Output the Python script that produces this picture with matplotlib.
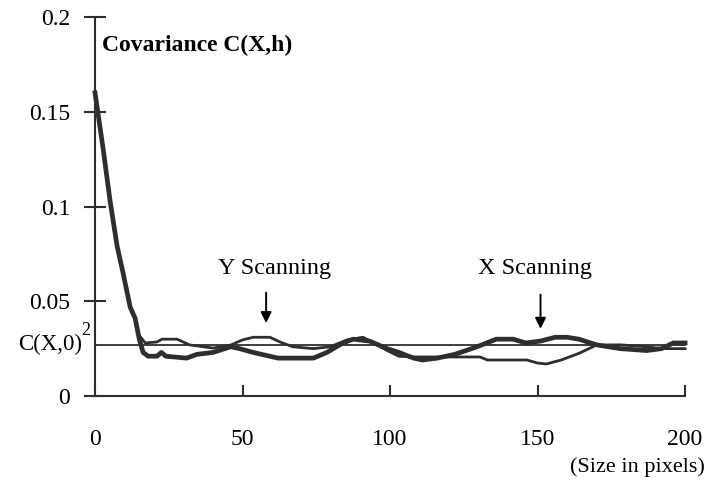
import matplotlib.pyplot as plt

plt.rcParams['font.family'] = ['Liberation Serif', 'DejaVu Serif']

# --- data ---
x_thick = [0, 2.7, 5.1, 7.5, 9.5, 11.9, 13.6, 15, 16.3, 18, 21, 22.5, 24, 31, 34.6, 40, 46,
           49, 53.6, 62, 74, 78.6, 84, 87.5, 93, 99, 103, 108, 111, 116, 122, 129.5, 136,
           141.7, 146, 151, 156, 160, 164, 170, 178, 187, 192, 196, 200]
y_thick = [0.160, 0.131, 0.103, 0.079, 0.065, 0.047, 0.041, 0.030, 0.023, 0.021, 0.021, 0.023,
           0.021, 0.020, 0.022, 0.023, 0.026, 0.025, 0.023, 0.020, 0.020, 0.023, 0.028, 0.030,
           0.029, 0.025, 0.023, 0.020, 0.019, 0.020, 0.022, 0.026, 0.030, 0.030, 0.028, 0.029,
           0.031, 0.031, 0.030, 0.027, 0.025, 0.024, 0.025, 0.028, 0.028]

x_thin = [0, 2.7, 5.1, 7.5, 9.5, 11.9, 13.6, 15, 17, 21, 22.7, 27.8, 32, 40, 46, 50, 53.6,
          59.3, 62.7, 67, 74, 79.7, 85.4, 90.8, 94, 99, 103, 108, 130.5, 133, 141.7, 146.4,
          150, 153, 158, 164, 170, 178, 187, 192, 200]
y_thin = [0.160, 0.131, 0.103, 0.079, 0.065, 0.047, 0.041, 0.032, 0.028, 0.0285, 0.030, 0.030,
          0.027, 0.0253, 0.0269, 0.0296, 0.031, 0.031, 0.0285, 0.026, 0.025, 0.026, 0.0296,
          0.031, 0.0285, 0.024, 0.021, 0.0206, 0.0206, 0.019, 0.019, 0.019, 0.0174, 0.0169,
          0.019, 0.0225, 0.0269, 0.027, 0.026, 0.025, 0.025]

c0 = 0.027  # C(X,0)^2 level
xticks = [0, 50, 100, 150, 200]
yticks = [0, 0.05, 0.1, 0.15, 0.2]
ytick_labels = ['0', '0.05', '0.1', '0.15', '0.2']

ink = '#2e2e2e'

fig = plt.figure(figsize=(7.07, 4.82), dpi=100)
ax = fig.add_axes([0.1344, 0.1784, 0.8346, 0.7863])

ax.plot([0, 200], [c0, c0], color=ink, lw=1.3, clip_on=False)
ax.plot(x_thin, y_thin, color=ink, lw=2.0, clip_on=False, solid_joinstyle='round')
ax.plot(x_thick, y_thick, color=ink, lw=3.4, clip_on=False, solid_joinstyle='round')

ax.set_xlim(0, 200)
ax.set_ylim(0, 0.2)
for s in ['top', 'right']:
    ax.spines[s].set_visible(False)
for s in ['left', 'bottom']:
    ax.spines[s].set_color(ink)
    ax.spines[s].set_linewidth(1.5)

ax.set_xticks(xticks)
ax.set_xticklabels([str(v) for v in xticks])
ax.set_yticks(yticks)
ax.set_yticklabels(ytick_labels)
ax.tick_params(axis='y', direction='inout', length=16, width=1.5, color=ink, pad=10, labelsize=17)
ax.tick_params(axis='x', direction='in', length=8, width=1.5, color=ink, pad=24, labelsize=17)

ax.text(0.012, 0.926, 'Covariance C(X,h)', transform=ax.transAxes, fontsize=17,
        fontweight='bold', va='center', ha='left')

# C(X,0)^2 label
ax.text(-0.022, c0, 'C(X,0)', transform=ax.get_yaxis_transform(), fontsize=16.5,
        ha='right', va='center', clip_on=False)
ax.text(-0.024, c0 + 0.0078, '2', transform=ax.get_yaxis_transform(), fontsize=13,
        ha='left', va='center', clip_on=False)

ax.text(61, 0.0675, 'Y Scanning', fontsize=17.5, ha='center', va='center')
ax.text(149, 0.0675, 'X Scanning', fontsize=17.5, ha='center', va='center')
ax.annotate('', xy=(58, 0.037), xytext=(58, 0.056),
            arrowprops=dict(arrowstyle='-|>', color='black', lw=1.4, mutation_scale=16))
ax.annotate('', xy=(151, 0.034), xytext=(151, 0.055),
            arrowprops=dict(arrowstyle='-|>', color='black', lw=1.4, mutation_scale=16))

fig.text(0.997, 0.031, '(Size in pixels)', fontsize=16, ha='right', va='center')

fig.savefig('out.png', dpi=100, facecolor='white')
